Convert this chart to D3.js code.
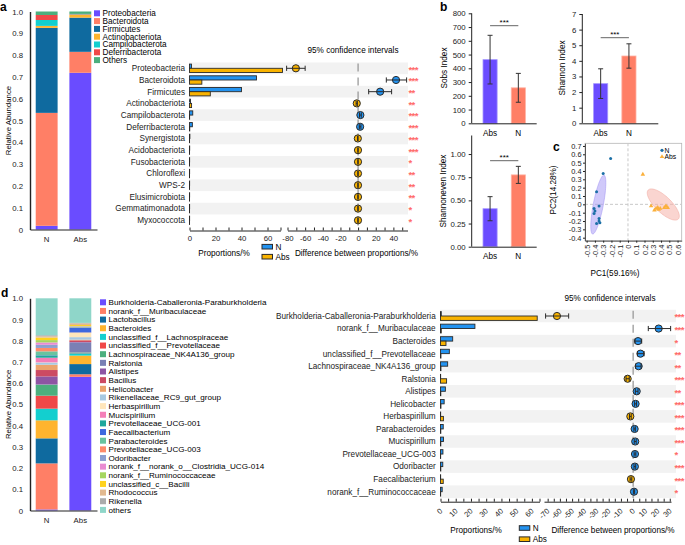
<!DOCTYPE html>
<html><head><meta charset="utf-8">
<script src="https://cdn.jsdelivr.net/npm/d3@7/dist/d3.min.js"></script>
<style>
body{margin:0;background:#fff;}
svg{display:block;font-family:"Liberation Sans",Arial,Helvetica,sans-serif;}
</style></head><body>
<svg width="685" height="545"></svg>
<script>
// ================= DATA =================
const stackGroups = ["N", "Abs"];

// panel a : phylum composition
const phylumNames  = ["Proteobacteria","Bacteroidota","Firmicutes","Actinobacteriota","Campilobacterota","Deferribacterota","Others"];
const phylumColors = ["#6a4cff","#ff7f66","#0f6a9f","#ffb42e","#13cfcf","#f04848","#4caf7d"];
const phylumN   = [0.017,0.518,0.390,0.009,0.027,0.023,0.016];
const phylumAbs = [0.719,0.096,0.157,0.013,0.002,0.002,0.011];

// panel a : phylum difference
const phylumDiffNames = ["Proteobacteria","Bacteroidota","Firmicutes","Actinobacteriota","Campilobacterota","Deferribacterota","Synergistota","Acidobacteriota","Fusobacteriota","Chloroflexi","WPS-2","Elusimicrobiota","Gemmatimonadota","Myxococcota"];
const phylumPropN    = [1.5,51.5,40.0,0.8,2.5,2.2,0.3,0.15,0.1,0.1,0.1,0.1,0.1,0.1];
const phylumPropAbs  = [71.5,9.5,16.0,1.6,0.1,0.2,0.05,0.05,0.05,0.05,0.05,0.05,0.05,0.05];
const phylumDiffMean = [-70.5,43,25,-1.5,2.6,2.3,-0.3,-0.1,-0.1,-0.1,-0.1,-0.1,-0.1,-0.1];
const phylumDiffLo   = [-81,32,12,-2.2,1.6,1.4,-0.6,-0.3,-0.3,-0.3,-0.3,-0.3,-0.3,-0.3];
const phylumDiffHi   = [-60,55,38,-0.8,3.6,3.2,0,0.1,0.1,0.1,0.1,0.1,0.1,0.1];
const phylumSig = ["***","***","**","**","***","***","***","***","*","**","**","**","*","*"];

// panel b : alpha diversity
const indexGroups = ["Abs","N"];
const sobsMean = [463,258],   sobsSd = [177,105];
const shannonMean = [2.54,4.31], shannonSd = [0.95,0.78];
const evenMean = [0.41,0.775],  evenSd = [0.13,0.092];
const sobsTicks = [0,100,200,300,400,500,600,700,800];
const shannonTicks = [0,1,2,3,4,5,6,7];
const evenTicks = [0,0.25,0.5,0.75,1.0];

// panel c : PCA
const pcaNx = [-0.21,-0.30,-0.38,-0.35,-0.41,-0.40,-0.41,-0.35,-0.35,-0.34,-0.38];
const pcaNy = [0.55,0.37,0.15,-0.02,-0.05,-0.08,-0.11,-0.17,-0.20,-0.22,-0.23];
const pcaAx = [0.18,0.28,0.32,0.34,0.36,0.37,0.39,0.44,0.46,0.48];
const pcaAy = [0.36,-0.02,-0.07,-0.05,-0.04,-0.06,-0.05,-0.04,-0.02,-0.04];
// ellipse: centre x, centre y, half major axis vector (x,y), half minor axis vector (x,y)
const ellipseN   = [-0.359,-0.003,0.069,0.353,0.0595,-0.0113];
const ellipseAbs = [0.427,-0.002,0.182,-0.174,-0.067,-0.069];
const pcaXTicks = [-0.5,-0.4,-0.3,-0.2,-0.1,0,0.1,0.2,0.3,0.4,0.5,0.6];
const pcaYTicks = [-0.4,-0.3,-0.2,-0.1,0,0.1,0.2,0.3,0.4,0.5,0.6,0.7];

// panel d : genus composition
const genusNames = ["Burkholderia-Caballeronia-Paraburkholderia","norank_f__Muribaculaceae","Lactobacillus","Bacteroides","unclassified_f__Lachnospiraceae","unclassified_f__Prevotellaceae","Lachnospiraceae_NK4A136_group","Ralstonia","Alistipes","Bacillus","Helicobacter","Rikenellaceae_RC9_gut_group","Herbaspirillum","Mucispirillum","Prevotellaceae_UCG-001","Faecalibacterium","Parabacteroides","Prevotellaceae_UCG-003","Odoribacter","norank_f__norank_o__Clostridia_UCG-014","norank_f__Ruminococcaceae","unclassified_c__Bacilli","Rhodococcus","Rikenella","others"];
const genusColors = ["#6a4cff","#ff7f66","#0f6a9f","#ffb42e","#13cfcf","#f04848","#4caf7d","#7a80b4","#8e55a3","#cc4a63","#eba46c","#a7c9e2","#ffe6bb","#f47fb8","#1fa79c","#3e68de","#69c39f","#ff8b6a","#8e9fd0","#e98bd2","#a5d65e","#ffd21e","#e2b98f","#ababab","#8fd6c9"];
const genusN   = [0.005,0.217,0.118,0.085,0.055,0.061,0.052,0.001,0.038,0.030,0.025,0.010,0.001,0.022,0.011,0.001,0.018,0.016,0.015,0.011,0.011,0.012,0.006,0.005,0.174];
const genusAbs = [0.630,0.012,0.048,0.040,0.011,0.002,0.002,0.047,0.002,0.008,0.003,0.012,0.020,0.002,0.001,0.022,0.002,0.001,0.002,0.001,0.001,0.005,0.008,0.002,0.116];

// panel d : genus difference
const genusDiffNames = ["Burkholderia-Caballeronia-Paraburkholderia","norank_f__Muribaculaceae","Bacteroides","unclassified_f__Prevotellaceae","Lachnospiraceae_NK4A136_group","Ralstonia","Alistipes","Helicobacter","Herbaspirillum","Parabacteroides","Mucispirillum","Prevotellaceae_UCG-003","Odoribacter","Faecalibacterium","norank_f__Ruminococcaceae"];
const genusPropN    = [0.5,22.6,8.0,5.8,4.7,0.1,3.2,2.4,0.1,1.8,2.0,1.6,1.5,0.1,1.1];
const genusPropAbs  = [63.5,0.5,3.6,0.3,0.3,4.0,0.2,0.3,1.9,0.2,0.2,0.1,0.2,1.8,0.1];
const genusDiffMean = [-62.4,20.9,4.0,6.0,4.5,-4.5,2.9,2.0,-2.3,1.2,1.7,1.5,1.4,-1.8,0.7];
const genusDiffLo   = [-71.7,12.4,1.5,3.5,2.0,-5.8,1.8,1.2,-3.0,0.6,0.9,0.8,0.7,-2.5,0.2];
const genusDiffHi   = [-52.8,30.7,7.0,9.0,6.5,-3.2,4.0,2.8,-1.6,1.8,2.5,2.2,2.1,-1.1,1.2];
const genusSig = ["***","***","*","**","**","***","**","***","***","***","***","*","***","***","*"];

// ================= DRAWING =================
const BLUE = "#2393f0", ORANGE = "#f9b300", DARK = "#2a2a2a", STAR = "#ff6b6b";
const FS = 8.2, TFS = 7.8;
const svg = d3.select("svg");
svg.append("rect").attr("width",685).attr("height",545).attr("fill","#fff");

function panelLabel(x,y,s){
  svg.append("text").attr("x",x).attr("y",y).attr("font-size",12).attr("font-weight","bold").text(s);
}
function styleAxis(a, fs){
  a.attr("font-family",null);
  a.selectAll("path,line").attr("stroke","#222");
  a.selectAll("text").attr("font-size",fs).attr("fill","#222");
}

// ---------- stacked bar ----------
function stackedPanel(o){
  const g = svg.append("g");
  const y = d3.scaleLinear().domain([0,1]).range([o.y0,o.y1]);
  const x = d3.scaleBand().domain(stackGroups).range([o.x0,o.x1]).paddingInner(0.35).paddingOuter(0.17);
  const rows = stackGroups.map((grp,i)=>{ const r={group:grp}; o.names.forEach((n,j)=> r[n]=o.values[i][j]); return r; });
  const series = d3.stack().keys(o.names)(rows);
  series.forEach((s,j)=>{
    g.selectAll(null).data(s).join("rect")
      .attr("x",d=>x(d.data.group)).attr("width",x.bandwidth())
      .attr("y",d=>y(d[1])).attr("height",d=>Math.max(0,y(d[0])-y(d[1])))
      .attr("fill",o.colors[j]);
  });
  const ya = g.append("g").attr("transform",`translate(${o.x0},0)`)
    .call(d3.axisLeft(y).tickValues(d3.range(0,11).map(i=>i/10)).tickFormat(d=>d===0?"0":d.toFixed(1)).tickSize(0).tickPadding(7));
  styleAxis(ya,TFS);
  ya.select(".domain").attr("stroke-width",1.4);
  const xa = g.append("g").attr("transform",`translate(0,${o.y0})`)
    .call(d3.axisBottom(x).tickSize(0).tickPadding(7));
  styleAxis(xa,TFS);
  xa.select(".domain").attr("stroke-width",1.2);
  g.append("text").attr("transform",`translate(${o.ylabX},${(o.y0+o.y1)/2}) rotate(-90)`)
    .attr("text-anchor","middle").attr("font-size",TFS).text("Relative Abundance");
  const lg = g.append("g");
  o.names.forEach((n,j)=>{
    const yy = o.legY0 + j*o.legStep;
    lg.append("rect").attr("x",o.legX).attr("y",yy-3).attr("width",6).attr("height",6).attr("fill",o.colors[j]);
    lg.append("text").attr("x",o.legX+8.5).attr("y",yy).attr("dy","0.35em").attr("font-size",o.legFs).text(n);
  });
}

// ---------- difference panel ----------
function diffPanel(o){
  const g = svg.append("g");
  const y = d3.scalePoint().domain(o.names).range([o.yFirst,o.yLast]);
  const step = (o.yLast-o.yFirst)/(o.names.length-1);
  const xb = d3.scaleLinear().domain(o.barDomain).range(o.barRange);
  const xc = d3.scaleLinear().domain(o.ciDomain).range(o.ciRange);
  g.selectAll(null).data(o.names.filter((d,i)=>i%2===0)).join("rect")
    .attr("x",o.bandX[0]).attr("width",o.bandX[1]-o.bandX[0])
    .attr("y",d=>y(d)-step/2).attr("height",step).attr("fill","#f2f2f2");
  g.selectAll(null).data(o.names).join("text")
    .attr("x",o.labelX).attr("y",d=>y(d)).attr("dy","0.35em").attr("text-anchor","end")
    .attr("font-size",o.fs).attr("fill","#222").text(d=>d);
  const bh = o.barH;
  g.selectAll(null).data(o.names).join("rect")
    .attr("x",xb(0)).attr("y",d=>y(d)-bh).attr("width",(d,i)=>xb(o.propN[i])-xb(0)).attr("height",bh)
    .attr("fill",BLUE).attr("stroke",DARK).attr("stroke-width",0.9);
  g.selectAll(null).data(o.names).join("rect")
    .attr("x",xb(0)).attr("y",d=>y(d)).attr("width",(d,i)=>xb(o.propAbs[i])-xb(0)).attr("height",bh)
    .attr("fill",ORANGE).attr("stroke",DARK).attr("stroke-width",0.9);
  const ba = g.append("g").attr("transform",`translate(0,${o.axisY})`)
    .call(d3.axisBottom(xb).tickValues(o.barTicks).tickFormat(d=>o.barLabels.includes(d)?String(d):"")
      .tickSizeInner(-3).tickSizeOuter(0).tickPadding(5));
  styleAxis(ba,o.tfs);
  const ca = g.append("g").attr("transform",`translate(0,${o.axisY})`)
    .call(d3.axisBottom(xc).tickValues(o.ciTicks).tickFormat(d=>o.ciLabels.includes(d)?String(d):"")
      .tickSizeInner(-3).tickSizeOuter(0).tickPadding(5));
  styleAxis(ca,o.tfs);
  if (o.rotate){
    [ba,ca].forEach(a=>a.selectAll("text").attr("y",0).attr("x",0).attr("dy","0.35em")
      .attr("text-anchor","end").attr("transform",`translate(${o.rotDx},${o.rotDy}) rotate(-45)`));
  }
  g.append("line").attr("x1",xc(0)).attr("x2",xc(0))
    .attr("y1",o.yFirst-step/2+1).attr("y2",o.yLast+step/2)
    .attr("stroke","#9a9a9a").attr("stroke-width",1.3).attr("stroke-dasharray","8,6");
  o.names.forEach((n,i)=>{
    const yy = y(n), col = o.mean[i] > 0 ? BLUE : ORANGE;
    g.append("circle").attr("cx",xc(o.mean[i])).attr("cy",yy).attr("r",3.6)
      .attr("fill",col).attr("stroke",DARK).attr("stroke-width",1);
    g.append("line").attr("x1",xc(o.lo[i])).attr("x2",xc(o.hi[i])).attr("y1",yy).attr("y2",yy)
      .attr("stroke",DARK).attr("stroke-width",1);
    [o.lo[i],o.hi[i]].forEach(v=> g.append("line").attr("x1",xc(v)).attr("x2",xc(v))
      .attr("y1",yy-2.6).attr("y2",yy+2.6).attr("stroke",DARK).attr("stroke-width",1));
  });
  g.selectAll(null).data(o.names).join("text")
    .attr("x",o.starX).attr("y",d=>y(d)+4.4).attr("font-size",9.5).attr("font-weight","bold")
    .attr("fill",STAR).attr("letter-spacing",-0.6).text((d,i)=>o.sig[i]);
  g.append("text").attr("x",o.titleX).attr("y",o.titleY).attr("text-anchor","middle").attr("font-size",FS).text("95% confidence intervals");
  g.append("text").attr("x",o.propLabX).attr("y",o.labY).attr("text-anchor","middle").attr("font-size",FS).text("Proportions/%");
  g.append("text").attr("x",o.diffLabX).attr("y",o.labY).attr("text-anchor","middle").attr("font-size",FS).text("Difference between proportions/%");
  [["N",BLUE],["Abs",ORANGE]].forEach(([t,c],k)=>{
    const yy = o.legY + k*o.legStep;
    g.append("rect").attr("x",o.legX).attr("y",yy-2.3).attr("width",10.5).attr("height",4.6)
      .attr("fill",c).attr("stroke",DARK).attr("stroke-width",1);
    g.append("text").attr("x",o.legX+13.5).attr("y",yy).attr("dy","0.35em").attr("font-size",FS).text(t);
  });
}

// ---------- alpha index bars ----------
function indexPanel(o){
  const g = svg.append("g");
  const y = d3.scaleLinear().domain(o.domain).range([o.yBottom,o.yTop]);
  const x = d3.scaleBand().domain(indexGroups).range([o.ax,o.ax+65]).paddingInner(0.5).paddingOuter(0.4);
  const cols = {Abs:"#6a4cff", N:"#ff7f66"}, edge = {Abs:"#a597ff", N:"#ffb2a3"};
  indexGroups.forEach((grp,i)=>{
    g.append("rect").attr("x",x(grp)).attr("width",x.bandwidth())
      .attr("y",y(o.mean[i])).attr("height",y(o.domain[0])-y(o.mean[i]))
      .attr("fill",cols[grp]).attr("stroke",edge[grp]).attr("stroke-width",0.8);
    const cx = x(grp)+x.bandwidth()/2;
    const t = y(o.mean[i]+o.sd[i]), b = y(o.mean[i]-o.sd[i]);
    g.append("line").attr("x1",cx).attr("x2",cx).attr("y1",t).attr("y2",b).attr("stroke","#333").attr("stroke-width",1);
    [t,b].forEach(v=>g.append("line").attr("x1",cx-2.5).attr("x2",cx+2.5).attr("y1",v).attr("y2",v).attr("stroke","#333").attr("stroke-width",1));
  });
  const ya = g.append("g").attr("transform",`translate(${o.ax},0)`)
    .call(d3.axisLeft(y).tickValues(o.ticks).tickFormat(o.fmt).tickSizeInner(3).tickSizeOuter(0).tickPadding(3));
  styleAxis(ya,TFS);
  ya.select(".domain").attr("d",`M0,${o.axTop}V${o.yBottom}`);
  g.append("line").attr("x1",o.ax).attr("x2",o.xEnd).attr("y1",o.yBottom+0.5).attr("y2",o.yBottom+0.5).attr("stroke","#222");
  indexGroups.forEach(grp=> g.append("text").attr("x",x(grp)+x.bandwidth()/2).attr("y",o.yBottom+9.5)
    .attr("dy","0.35em").attr("text-anchor","middle").attr("font-size",FS).text(grp));
  const c0 = x("Abs")+x.bandwidth()/2, c1 = x("N")+x.bandwidth()/2;
  g.append("line").attr("x1",c0).attr("x2",c1).attr("y1",o.sigY).attr("y2",o.sigY).attr("stroke","#666").attr("stroke-width",1);
  g.append("text").attr("x",(c0+c1)/2).attr("y",o.sigY-0.5).attr("text-anchor","middle").attr("font-size",8).text("***");
  g.append("text").attr("transform",`translate(${o.labX},${o.labY}) rotate(-90)`)
    .attr("text-anchor","middle").attr("font-size",FS).text(o.title);
}

// ---------- PCA ----------
function pcaPanel(){
  const g = svg.append("g");
  const x = d3.scaleLinear().domain([-0.52,0.65]).range([585,681.7]);
  const y = d3.scaleLinear().domain([-0.436,0.732]).range([240.7,143.3]);
  g.append("rect").attr("x",585).attr("y",143.3).attr("width",96.7).attr("height",97.4)
    .attr("fill","#fff").attr("stroke","#b5b5b5").attr("stroke-width",0.8);
  g.append("line").attr("x1",x(0)).attr("x2",x(0)).attr("y1",143.3).attr("y2",240.7).attr("stroke","#c8c8c8").attr("stroke-dasharray","3,2");
  g.append("line").attr("x1",585).attr("x2",681.7).attr("y1",y(0)).attr("y2",y(0)).attr("stroke","#c8c8c8").attr("stroke-dasharray","3,2");
  function ell(p, fill, stroke){
    const pts = d3.range(0,73).map(k=>{ const t=k/72*2*Math.PI;
      return [x(p[0]+p[2]*Math.cos(t)+p[4]*Math.sin(t)), y(p[1]+p[3]*Math.cos(t)+p[5]*Math.sin(t))]; });
    g.append("path").attr("d",d3.line()(pts)+"Z").attr("fill",fill).attr("fill-opacity",0.55)
      .attr("stroke",stroke).attr("stroke-width",0.5);
  }
  ell(ellipseN,"#a99cf5","#9c8ff0");
  ell(ellipseAbs,"#f6b3aa","#eea59b");
  pcaNx.forEach((v,i)=> g.append("circle").attr("cx",x(v)).attr("cy",y(pcaNy[i])).attr("r",1.5).attr("fill","#1b6fa6"));
  const tri = d3.symbol(d3.symbolTriangle).size(9);
  pcaAx.forEach((v,i)=> g.append("path").attr("d",tri).attr("transform",`translate(${x(v)},${y(pcaAy[i])})`).attr("fill","#fbb03b"));
  const ya = g.append("g").attr("transform","translate(585,0)")
    .call(d3.axisLeft(y).tickValues(pcaYTicks).tickFormat(d=>d===0?"0":d.toFixed(1)).tickSizeInner(2).tickSizeOuter(0).tickPadding(1.5));
  styleAxis(ya,7.4);
  ya.select(".domain").attr("stroke","#555");
  const xa = g.append("g").attr("transform","translate(0,240.7)")
    .call(d3.axisBottom(x).tickValues(pcaXTicks).tickFormat(d=>d===0?"0":d.toFixed(1)).tickSizeInner(2).tickSizeOuter(0));
  styleAxis(xa,7.4);
  xa.select(".domain").attr("stroke","#555");
  xa.selectAll("text").attr("y",0).attr("x",0).attr("dy","0.35em").attr("text-anchor","end")
    .attr("transform","translate(0,4) rotate(-90)");
  g.append("text").attr("x",615).attr("y",273).attr("dy","0.35em").attr("text-anchor","middle").attr("font-size",FS).text("PC1(59.16%)");
  g.append("text").attr("transform","translate(556,190) rotate(-90)").attr("text-anchor","middle").attr("font-size",FS).text("PC2(14.28%)");
  g.append("circle").attr("cx",662).attr("cy",150.3).attr("r",1.6).attr("fill","#1b6fa6");
  g.append("text").attr("x",664.5).attr("y",150.3).attr("dy","0.33em").attr("font-size",6.8).text("N");
  g.append("path").attr("d",tri).attr("transform","translate(662,156.8)").attr("fill","#fbb03b");
  g.append("text").attr("x",664.5).attr("y",157.2).attr("dy","0.33em").attr("font-size",6.8).text("Abs");
}

// ===== panel a =====
panelLabel(0,11,"a");
stackedPanel({names:phylumNames, colors:phylumColors, values:[phylumN,phylumAbs],
  x0:30, x1:97, y0:229.5, y1:11.5, ylabX:11, legX:94, legY0:13.3, legStep:7.8, legFs:8.2});
diffPanel({names:phylumDiffNames, propN:phylumPropN, propAbs:phylumPropAbs, mean:phylumDiffMean,
  lo:phylumDiffLo, hi:phylumDiffHi, sig:phylumSig,
  yFirst:68.3, yLast:220.3, labelX:185, fs:8.2, tfs:TFS, barH:4.2,
  barDomain:[0,70], barRange:[189.5,280.5], barTicks:d3.range(0,71,10), barLabels:[0,20,40,60],
  ciDomain:[-80,56], ciRange:[287.5,407.5], ciTicks:d3.range(-80,51,10), ciLabels:[-80,-60,-40,-20,0,20,40],
  axisY:230.5, bandX:[189,408], starX:408.5, rotate:false,
  titleX:353, titleY:53, propLabX:224, diffLabX:356.5, labY:255.5,
  legX:262, legY:246.7, legStep:10});

// ===== panel b =====
panelLabel(440,11,"b");
indexPanel({ax:471.7, xEnd:536.7, yTop:13.3, yBottom:123.3, axTop:13.3, domain:[0,800], ticks:sobsTicks, fmt:d=>String(d),
  mean:sobsMean, sd:sobsSd, sigY:25.7, title:"Sobs Index", labX:447, labY:68});
indexPanel({ax:582.3, xEnd:658.3, yTop:14, yBottom:123.3, axTop:14, domain:[0,7], ticks:shannonTicks, fmt:d=>String(d),
  mean:shannonMean, sd:shannonSd, sigY:37.7, title:"Shannon Index", labX:565, labY:68});
indexPanel({ax:471.7, xEnd:536.7, yTop:135.5, yBottom:246.7, axTop:135.5, domain:[0,1.2], ticks:evenTicks, fmt:d=>d.toFixed(2),
  mean:evenMean, sd:evenSd, sigY:160.7, title:"Shannoneven Index", labX:446, labY:191});

// ===== panel c =====
panelLabel(553,151,"c");
pcaPanel();

// ===== panel d =====
panelLabel(1,297,"d");
stackedPanel({names:genusNames, colors:genusColors, values:[genusN,genusAbs],
  x0:30, x1:97, y0:510.5, y1:298.3, ylabX:11, legX:100, legY0:302.3, legStep:8.65, legFs:8.1});
diffPanel({names:genusDiffNames, propN:genusPropN, propAbs:genusPropAbs, mean:genusDiffMean,
  lo:genusDiffLo, hi:genusDiffHi, sig:genusSig,
  yFirst:316, yLast:491.7, labelX:435.7, fs:8.2, tfs:7.6, barH:4.4,
  barDomain:[0,65], barRange:[440.5,539.5], barTicks:d3.range(0,66,5), barLabels:d3.range(0,61,10),
  ciDomain:[-73,31], ciRange:[544,671], ciTicks:d3.range(-70,31,5), ciLabels:d3.range(-70,31,10),
  axisY:501.7, bandX:[440,676], starX:674.5, rotate:true, rotDx:0, rotDy:8,
  titleX:610, titleY:301, propLabX:476, diffLabX:613, labY:533,
  legX:519.3, legY:528, legStep:11.2});
</script>
</body></html>
